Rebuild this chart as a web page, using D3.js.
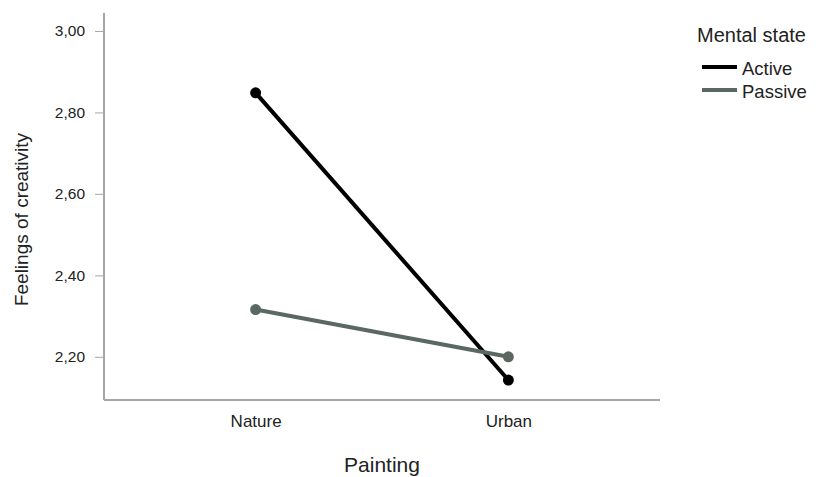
<!DOCTYPE html>
<html>
<head>
<meta charset="utf-8">
<script src="https://d3js.org/d3.v7.min.js"></script>
<style>
  body { margin: 0; background: #fff; }
  text { font-family: "Liberation Sans", Arial, sans-serif; fill: #222; }
</style>
</head>
<body>
<svg id="chart" width="816" height="477"></svg>
<script>
// painting categories on the x axis
var paintings = ["Nature", "Urban"];
// estimated means per mental state
var active = [2.848, 2.143];
var passive = [2.316, 2.200];
var seriesNames = ["Active", "Passive"];
var yTicks = [2.2, 2.4, 2.6, 2.8, 3.0];

var colors = ["#000000", "#5b6862"];

var margin = {top: 13, right: 156, bottom: 77, left: 104}
  , width = 816 - margin.left - margin.right
  , height = 477 - margin.top - margin.bottom;

var svg = d3.select("#chart");
var g = svg.append("g")
  .attr("transform", "translate(" + margin.left + "," + margin.top + ")");

var x = d3.scalePoint()
  .domain(paintings)
  .range([0, width])
  .padding(0.6);

var y = d3.scaleLinear()
  .domain([2.094, 3.044])
  .range([height, 0]);

var fmt = d => d3.format(".2f")(d).replace(".", ",");

// y axis
var yAxis = g.append("g")
  .call(d3.axisLeft(y).tickValues(yTicks).tickFormat(fmt).tickSize(9).tickPadding(10));
yAxis.select(".domain").attr("stroke", "#a6a6a6").attr("stroke-width", 2).attr("d", "M0," + height + "V0");
yAxis.selectAll(".tick line").attr("stroke", "#a6a6a6").attr("stroke-width", 1);
yAxis.selectAll(".tick text").style("font-size", "15.5px").attr("fill", "#222");

// x axis
var xAxis = g.append("g")
  .attr("transform", "translate(0," + height + ")")
  .call(d3.axisBottom(x).tickSize(0).tickPadding(15));
xAxis.select(".domain").attr("stroke", "#a6a6a6").attr("stroke-width", 2).attr("d", "M0,0H" + width);
xAxis.selectAll(".tick text").style("font-size", "17px").attr("fill", "#222");

// axis titles
svg.append("text")
  .attr("transform", "translate(28," + (margin.top + height / 2 + 13) + ") rotate(-90)")
  .attr("text-anchor", "middle")
  .style("font-size", "19px")
  .text("Feelings of creativity");

svg.append("text")
  .attr("x", margin.left + width / 2)
  .attr("y", 472)
  .attr("text-anchor", "middle")
  .style("font-size", "21px")
  .text("Painting");

// lines + markers
var series = [active, passive];
var line = d3.line()
  .x((d, i) => x(paintings[i]))
  .y(d => y(d));

series.forEach(function(vals, s) {
  g.append("path")
    .datum(vals)
    .attr("fill", "none")
    .attr("stroke", colors[s])
    .attr("stroke-width", 4)
    .attr("d", line);
  g.selectAll(".dot" + s)
    .data(vals)
    .enter().append("circle")
    .attr("cx", (d, i) => x(paintings[i]))
    .attr("cy", d => y(d))
    .attr("r", 5.5)
    .attr("fill", colors[s]);
});

// legend
var legend = svg.append("g").attr("transform", "translate(697,0)");
legend.append("text")
  .attr("x", 0).attr("y", 42)
  .style("font-size", "20px")
  .text("Mental state");
seriesNames.forEach(function(name, i) {
  legend.append("line")
    .attr("x1", 5).attr("x2", 40)
    .attr("y1", 67 + i * 23).attr("y2", 67 + i * 23)
    .attr("stroke", colors[i]).attr("stroke-width", 4);
  legend.append("text")
    .attr("x", 45).attr("y", 75 + i * 22.5)
    .style("font-size", "18.5px")
    .text(name);
});
</script>
</body>
</html>
